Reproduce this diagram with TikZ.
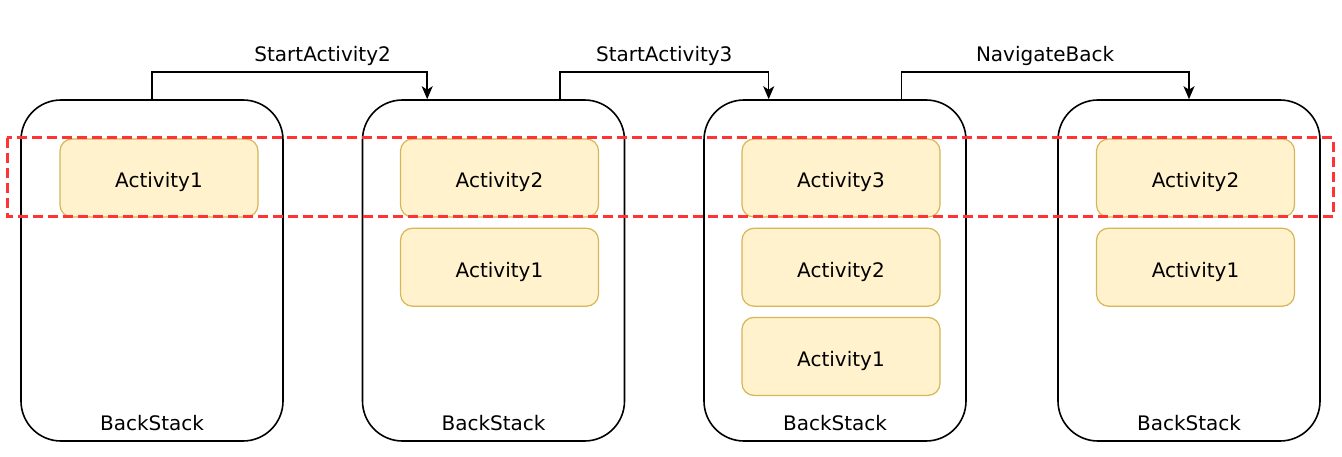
\documentclass[tikz,border=0pt]{standalone}
\usepackage{fontspec}
\setmainfont{DejaVu Sans}
\usepackage{tikz}
\usetikzlibrary{arrows.meta,shapes,positioning}
\usepackage{xcolor}
\definecolor{actfill}{RGB}{255,242,204}
\definecolor{actdraw}{RGB}{214,182,86}
\definecolor{markred}{RGB}{255,51,51}
\tikzstyle{arrow} = [line width=1.5pt,-{Stealth[length=13pt,width=11pt,inset=3.5pt]},color=black]
\tikzstyle{backstack} = [rectangle, rounded corners=40pt, minimum width=262pt, minimum height=341pt, draw=black, line width=1.6pt]
\tikzstyle{activity} = [rectangle, rounded corners=12pt, minimum width=198pt, minimum height=78pt, text height=20pt, text depth=0pt, text centered, draw=actdraw, fill=actfill, line width=1.2pt]
\tikzstyle{current} = [dash pattern=on 10pt off 5pt, color=markred, line width=3pt]

\begin{document}
\begin{tikzpicture}[x=1pt, y=-1pt, font=\fontsize{20pt}{24pt}\selectfont]
\useasboundingbox (0,0) rectangle (1342,457);
% Stacks
\node (stack1) [backstack] at (152,270.5) {};
\node (stack2) [backstack] at (493.5,270.5) {};
\node (stack3) [backstack] at (835,270.5) {};
\node (stack4) [backstack] at (1189,270.5) {};
\node (bs1) at ([yshift=19pt]stack1.south) {BackStack};
\node (bs2) at ([yshift=19pt]stack2.south) {BackStack};
\node (bs3) at ([yshift=19pt]stack3.south) {BackStack};
\node (bs4) at ([yshift=19pt]stack4.south) {BackStack};

% Activities
\node (act11) [activity] at (159,178) {Activity1};
\node (act22) [activity] at (499.5,178) {Activity2};
\node (act21) [activity, below=10pt of act22] {Activity1};
\node (act33) [activity] at (841,178) {Activity3};
\node (act32) [activity, below=10pt of act33] {Activity2};
\node (act31) [activity, below=10pt of act32] {Activity1};
\node (act42) [activity] at (1195.5,178) {Activity2};
\node (act41) [activity, below=10pt of act42] {Activity1};

% Arrows
\draw[arrow] (stack1.north) -- ++(0,-27) -| node[above, pos=0.31, yshift=2pt] {StartActivity2} ([xshift=65.5pt]stack2.north west);
\draw[arrow] ([xshift=-65.5pt]stack2.north east) -- ++(0,-27) -| node[above, pos=0.25, yshift=2pt] {StartActivity3} ([xshift=65.5pt]stack3.north west);
\draw[arrow] ([xshift=-65.5pt]stack3.north east) -- ++(0,-27) -| node[above, pos=0.25, yshift=2pt] {NavigateBack} (stack4.north);

% Top of stack
\draw[current] (7,138) rectangle (1333,217);
\end{tikzpicture}
\end{document}
